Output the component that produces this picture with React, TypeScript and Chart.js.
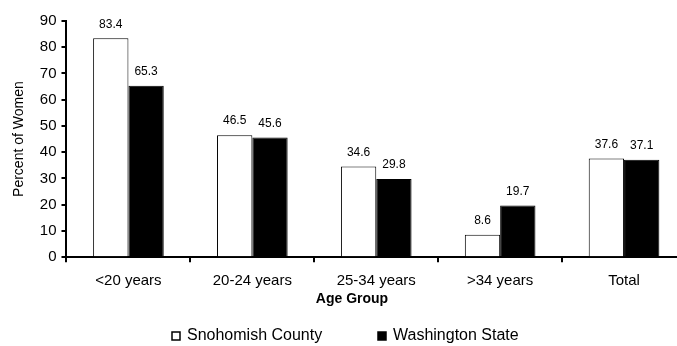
import React, { useEffect, useRef } from "react";
import { Chart, registerables } from "chart.js";
Chart.register(...registerables);

const categories = ["<20 years", "20-24 years", "25-34 years", ">34 years", "Total"];
const snohomish = [83.4, 46.5, 34.6, 8.6, 37.6];
const washington = [65.3, 45.6, 29.8, 19.7, 37.1];
const seriesNames = ["Snohomish County", "Washington State"];
const yMin = 0;
const yMax = 90;
const yStep = 10;
const xTitle = "Age Group";
const yTitle = "Percent of Women";

const FONT = "'Liberation Sans', Arial, sans-serif";

const valueLabels = {
  id: "valueLabels",
  afterDatasetsDraw(chart: any) {
    const ctx = chart.ctx;
    ctx.save();
    ctx.font = `12px ${FONT}`;
    ctx.fillStyle = "#000";
    ctx.textAlign = "center";
    ctx.textBaseline = "bottom";
    chart.data.datasets.forEach((ds: any, i: number) => {
      const meta = chart.getDatasetMeta(i);
      meta.data.forEach((bar: any, j: number) => {
        ctx.fillText(ds.data[j].toFixed(1), bar.x, bar.y - 8);
      });
    });
    ctx.restore();
  },
};

const extras = {
  id: "extras",
  afterDraw(chart: any) {
    const ctx = chart.ctx;
    ctx.save();
    ctx.font = `bold 14px ${FONT}`;
    ctx.fillStyle = "#000";
    ctx.textAlign = "center";
    ctx.textBaseline = "middle";
    ctx.fillText(xTitle, 352, 299);
    ctx.font = `16px ${FONT}`;
    ctx.textAlign = "left";
    const y = 336;
    const items = [
      { x: 172, fill: "#fff", text: seriesNames[0] },
      { x: 378, fill: "#000", text: seriesNames[1] },
    ];
    items.forEach((it) => {
      ctx.fillStyle = it.fill;
      ctx.fillRect(it.x, y - 4, 8, 8);
      ctx.strokeStyle = "#000";
      ctx.lineWidth = 1.5;
      ctx.strokeRect(it.x, y - 4, 8, 8);
      ctx.fillStyle = "#000";
      ctx.fillText(it.text, it.x + 15, y);
    });
    ctx.restore();
  },
};

export default function App() {
  const ref = useRef<HTMLCanvasElement>(null);
  useEffect(() => {
    if (!ref.current) return;
    const chart = new Chart(ref.current, {
      type: "bar",
      data: {
        labels: categories,
        datasets: [
          {
            label: seriesNames[0],
            data: snohomish,
            backgroundColor: "#fff",
            borderColor: "#000",
            borderWidth: 1,
            categoryPercentage: 0.57,
            barPercentage: 1,
          },
          {
            label: seriesNames[1],
            data: washington,
            backgroundColor: "#000",
            borderColor: "#000",
            borderWidth: 1,
            categoryPercentage: 0.57,
            barPercentage: 1,
          },
        ],
      },
      options: {
        animation: false,
        responsive: false,
        maintainAspectRatio: false,
        layout: { padding: { top: 21, right: 4, bottom: 29, left: 10 } },
        plugins: { legend: { display: false }, tooltip: { enabled: false } },
        scales: {
          x: {
            grid: { display: true, drawOnChartArea: false, drawTicks: true, tickLength: 5, color: "#000", lineWidth: 2 },
            border: { display: true, color: "#000", width: 2 },
            ticks: { color: "#000", font: { family: FONT, size: 15 }, padding: 10, maxRotation: 0 },
            title: { display: true, text: xTitle, color: "rgba(0,0,0,0)", font: { family: FONT, size: 14, weight: "bold" }, padding: { top: 0, bottom: 0 } },
          },
          y: {
            min: yMin,
            max: yMax,
            grid: { display: true, drawOnChartArea: false, drawTicks: true, tickLength: 5, color: "#000", lineWidth: 2 },
            border: { display: true, color: "#000", width: 2 },
            ticks: { stepSize: yStep, color: "#000", font: { family: FONT, size: 15 }, padding: 5 },
            title: { display: true, text: yTitle, color: "#000", font: { family: FONT, size: 14 }, padding: { top: 1, bottom: 7 } },
          },
        },
      },
      plugins: [valueLabels, extras],
    });
    return () => chart.destroy();
  }, []);
  return (
    <div style={{ position: "fixed", left: 0, top: 0, width: 677, height: 346, overflow: "hidden", background: "#fff" }}>
      <canvas ref={ref} width={690} height={346} style={{ display: "block", width: 690, height: 346 }} />
    </div>
  );
}
